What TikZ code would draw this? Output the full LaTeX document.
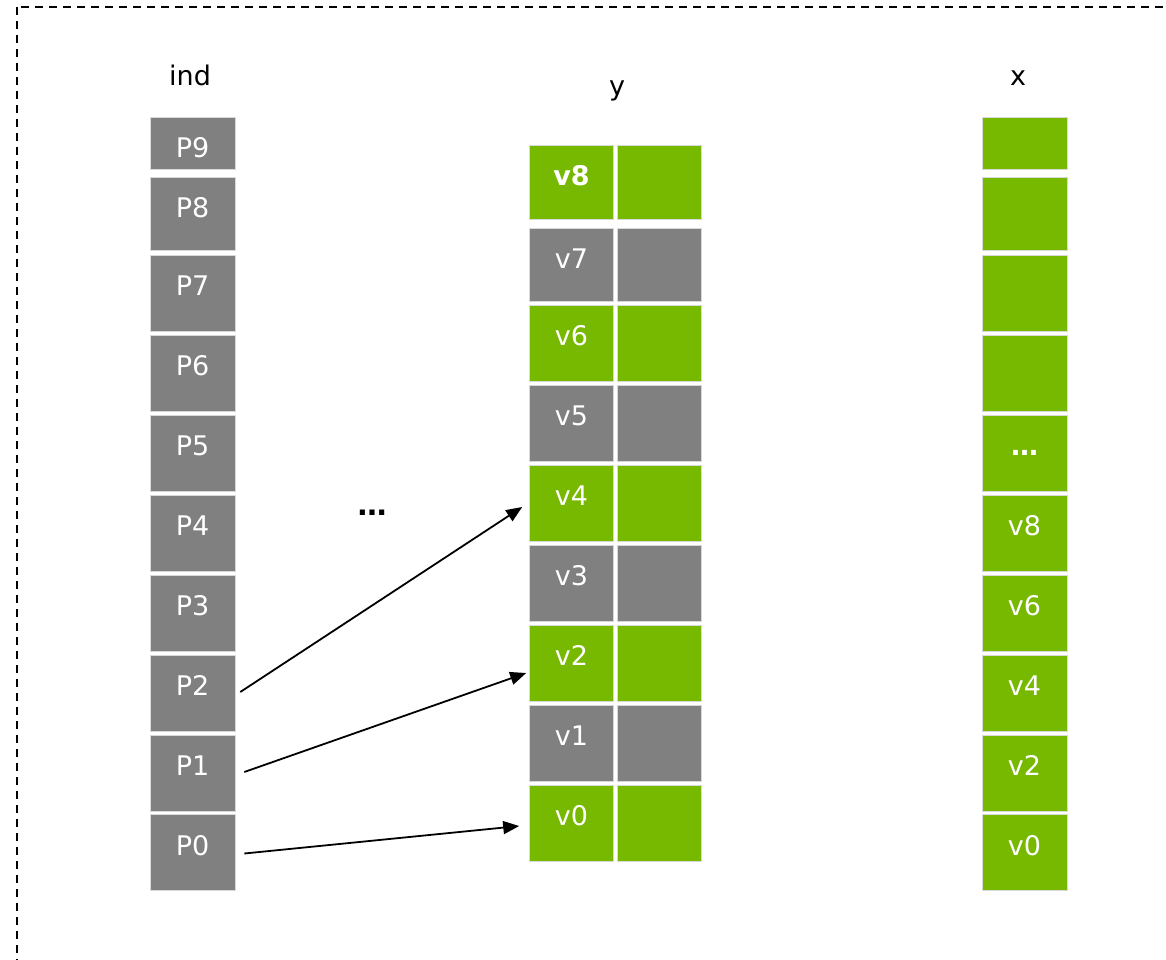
\documentclass[tikz,border=0pt]{standalone}
\usepackage{fontspec}
\setmainfont{DejaVu Sans}
\usetikzlibrary{arrows.meta}
\definecolor{cellgray}{HTML}{808080}
\definecolor{cellgreen}{HTML}{76B900}
\tikzset{
  cell/.style={rectangle, inner sep=0pt, draw=white!85!black, line width=0.6pt},
  graycell/.style={cell, fill=cellgray},
  greencell/.style={cell, fill=cellgreen},
  celltext/.style={anchor=center, yshift=-31pt, text=white, inner sep=0pt,
    font=\fontsize{27}{31}\selectfont},
  tx/.style={label={[celltext]north:#1}},
  txb/.style={label={[celltext, font=\fontsize{27}{31}\selectfont\bfseries]north:#1}},
  colwide/.style={minimum width=85pt},
  ycol/.style={minimum width=84pt},
  header/.style={font=\fontsize{27}{31}\selectfont, text=black},
  link/.style={line width=1.8pt, -{Triangle[length=16pt,width=13pt]}},
  frame/.style={line width=2pt, dash pattern=on 8pt off 6pt}
}
\begin{document}
\begin{tikzpicture}[x=1pt, y=-1pt]
\clip (0,0) rectangle (1166,960);
\fill[white] (0,0) rectangle (1166,960);
% outer dashed frame (runs off the right and bottom edges)
\draw[frame] (17,7) rectangle (1200,1000);

% column headers
\node[header] (hind) at (190,75) {ind};
\node[header] (hy) at (617,91) {y};
\node[header] (hx) at (1018,78) {x};

% ind column
\node[graycell, colwide, minimum height=52pt, tx=P9] (p9) at (192.5,143) {};
\node[graycell, colwide, minimum height=73pt, tx=P8] (p8) at (192.5,213.5) {};
\foreach \i/\yy in {7/293,6/373,5/453,4/533,3/613,2/693,1/773,0/852.5}{
  \node[graycell, colwide, minimum height=76pt, tx=P\i] (p\i) at (192.5,\yy) {};
}

% y column: left (value) and right halves
\node[greencell, ycol, minimum height=74pt, txb=v8] (yl8) at (571.5,182) {};
\node[greencell, ycol, minimum height=74pt] (yr8) at (659,182) {};
\node[graycell, ycol, minimum height=73pt, tx=v7] (yl7) at (571.5,264.5) {};
\node[graycell, ycol, minimum height=73pt] (yr7) at (659,264.5) {};
\foreach \i/\yy/\st in {6/343/greencell,5/423/graycell,4/503/greencell,3/583/graycell,2/663/greencell,1/743/graycell,0/823/greencell}{
  \node[\st, ycol, minimum height=76pt, tx=v\i] (yl\i) at (571.5,\yy) {};
  \node[\st, ycol, minimum height=76pt] (yr\i) at (659,\yy) {};
}

% x column
\node[greencell, colwide, minimum height=52pt] (x9) at (1024.5,143) {};
\node[greencell, colwide, minimum height=73pt] (x8) at (1024.5,213.5) {};
\node[greencell, colwide, minimum height=76pt] (x7) at (1024.5,293) {};
\node[greencell, colwide, minimum height=76pt] (x6) at (1024.5,373) {};
\node[greencell, colwide, minimum height=76pt,
  label={[celltext, yshift=-7pt, font=\fontsize{27}{31}\selectfont\bfseries]north:…}] (x5) at (1024.5,453) {};
\node[greencell, colwide, minimum height=76pt, tx=v8] (x4) at (1024.5,533) {};
\node[greencell, colwide, minimum height=76pt, tx=v6] (x3) at (1024.5,613) {};
\node[greencell, colwide, minimum height=76pt, tx=v4] (x2) at (1024.5,693) {};
\node[greencell, colwide, minimum height=76pt, tx=v2] (x1) at (1024.5,773) {};
\node[greencell, colwide, minimum height=76pt, tx=v0] (x0) at (1024.5,852.5) {};

% ellipsis between the columns
\node[header, inner sep=0pt, font=\fontsize{29}{33}\selectfont\bfseries] (dots) at (372,513) {…};

% gather links
\draw[link] ([xshift=5pt,yshift=1pt]p2.east) -- ([xshift=-7pt,yshift=-4pt]yl4.west);
\draw[link] ([xshift=9pt,yshift=1pt]p1.east) -- ([xshift=-3pt,yshift=-10pt]yl2.west);
\draw[link] ([xshift=9pt,yshift=-1pt]p0.east) -- ([xshift=-10pt,yshift=-3pt]yl0.west);
\end{tikzpicture}
\end{document}
